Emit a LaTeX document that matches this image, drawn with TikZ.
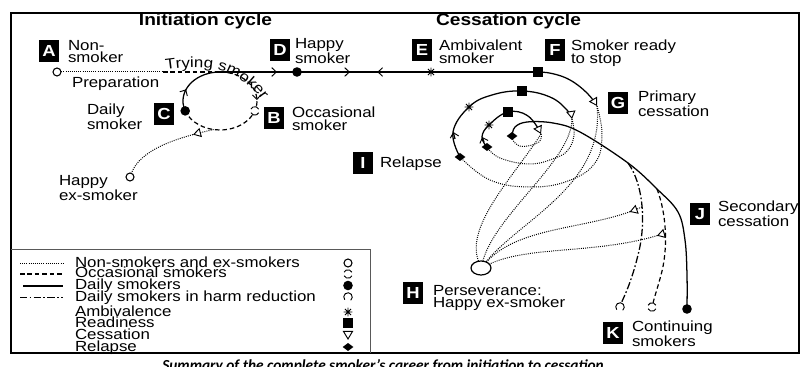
\documentclass[tikz,border=0pt]{standalone}
\usepackage{fontspec}
\setmainfont{Liberation Sans}[FakeStretch=1.15]
\newfontfamily\capfont{Carlito}
\usetikzlibrary{arrows.meta,decorations.markings,decorations.text,shapes.geometric}
\tikzset{
  every node/.style={inner sep=0pt, outer sep=0pt},
  lbl/.style={fill=black, text=white, font=\bfseries\fontsize{12}{12}\selectfont, minimum width=15.4pt, minimum height=16.5pt},
  txt/.style={anchor=west, align=left, font=\fontsize{11}{9.6}\selectfont},
  ltxt/.style={anchor=base west, font=\fontsize{11}{11}\selectfont},
  head/.style={font=\bfseries\fontsize{12.5}{12.5}\selectfont},
  dotl/.style={line width=0.75pt, dash pattern=on 0.7pt off 0.9pt},
  dashl/.style={line width=0.9pt, dash pattern=on 3.4pt off 2.2pt},
  soll/.style={line width=0.95pt},
  ddl/.style={line width=0.95pt, dash pattern=on 5.5pt off 1.8pt on 1.2pt off 1.8pt},
  opc/.style={circle, draw, line width=0.8pt, minimum size=6pt, fill=white},
  fc/.style={circle, fill, minimum size=7.2pt},
  sq/.style={fill, minimum size=7.2pt},
  dia/.style={diamond, fill, minimum width=8pt, minimum height=6pt},
  cess/.tip={Triangle[fill=white, length=6pt, width=7pt, line width=0.7pt]},
  vv/.tip={Straight Barb[length=3.4pt, width=6.5pt, line width=0.7pt]},
  markat/.style 2 args={postaction={decorate, decoration={markings, mark=at position #1 with {#2}}}},
  ast/.pic={\draw[line width=0.7pt] (-3.2pt,0pt)--(3.2pt,0pt) (0pt,-3.2pt)--(0pt,3.2pt) (-2.3pt,-2.3pt)--(2.3pt,2.3pt) (-2.3pt,2.3pt)--(2.3pt,-2.3pt);},
  occ/.pic={\fill[white] (0pt,0pt) circle[radius=3.2pt]; \draw[line width=0.7pt] (25:3.2pt) arc[start angle=25, end angle=155, radius=3.2pt] (205:3.2pt) arc[start angle=205, end angle=335, radius=3.2pt];},
  harm/.pic={\fill[white] (0pt,0pt) circle[radius=3.2pt]; \draw[line width=0.7pt] (-50:3.2pt) arc[start angle=-50, end angle=220, radius=3.2pt];},
  tridn/.pic={\draw[line width=0.7pt, fill=white] (-3.4pt,2.7pt) -- (3.4pt,2.7pt) -- (0pt,-3pt) -- cycle;},
}
\begin{document}
\begin{tikzpicture}[x=0.75pt,y=-0.75pt]
\useasboundingbox (0,0) rectangle (810,367);
% frames
\draw[line width=1.8pt] (11,13) rectangle (799,353);
\draw[line width=0.7pt, black!65] (11,249) -- (370,249) -- (370,353);

% coordinates
\coordinate (cA) at (57,72);
\coordinate (pT) at (163,72);
\coordinate (lTop) at (220,72);
\coordinate (cD) at (297,72);
\coordinate (cE) at (431,72);
\coordinate (cF) at (538,72);
\coordinate (cC) at (185.2,110.9);
\coordinate (cB) at (254.8,110.9);
\coordinate (cLb) at (213.6,129.6);
\coordinate (cT1) at (597,106);
\coordinate (cD2) at (460,157);
\coordinate (cA2) at (469,107);
\coordinate (cQ2) at (522,91);
\coordinate (cT2) at (572,119);
\coordinate (cD3) at (487,147);
\coordinate (cA3) at (489,125);
\coordinate (cQ3) at (508,112);
\coordinate (cT3) at (541,134);
\coordinate (cD4) at (512,136);
\coordinate (bJ1) at (628,163);
\coordinate (bJ2) at (657,189);
\coordinate (cK3) at (687,309);
\coordinate (cK1e) at (621,303.5);
\coordinate (cK2e) at (653,303.5);
\coordinate (cL4) at (642,207);
\coordinate (cL5) at (665.5,233);

\node[ellipse, draw, line width=0.9pt, fill=white, minimum width=15pt, minimum height=10.5pt] (H) at (481,268) {};
\node[opc] (sX) at (130,177) {};

% initiation cycle
\draw[dotl] (cA) -- (pT);
\draw[dashl] (pT) -- (lTop);
\draw[soll, markat={0.74}{\arrow{vv}}] (lTop) -- (cD);
\draw[soll, markat={0.36}{\arrow{vv}}] (cC) arc[start angle=160, end angle=270, x radius=37, y radius=29];
\draw[dashl, markat={0.35}{\arrow{vv}}] (lTop) arc[start angle=270, end angle=520, x radius=37, y radius=29];
\draw[dotl, markat={0.22}{\arrow{cess}}] (cLb) .. controls (175,138) and (140,150) .. (sX);
\path[decorate, decoration={text along path, text align=left, text={|\fontsize{11}{11}\selectfont|Trying smoker}}] (166,70) .. controls (202,65) and (242,64) .. (268,110);

% main line
\draw[soll, postaction={decorate, decoration={markings, mark=at position 0.395 with {\arrow{vv}}, mark=at position 0.6 with {\arrowreversed{vv}}}}] (cD) -- (cE);
\draw[soll] (cE) -- (cF);
\draw[soll, -cess] plot[smooth, tension=0.7] coordinates {(cF) (552,73.5) (570,80) (587,93) (cT1)};

% spiral
\draw[soll, -cess] plot[smooth, tension=0.7] coordinates {(cD2) (453,132) (cA2) (492,95) (cQ2) (550,97) (567,110) (cT2)};
\draw[soll, -vv] (455,139) -- (453.2,132);
\draw[soll, -cess] plot[smooth, tension=0.7] coordinates {(cD3) (482,137) (cA3) (cQ3) (528,116) (cT3)};
\draw[soll, -vv] (484,142) -- (482.2,137);
\draw[soll] plot[smooth, tension=0.6] coordinates {(cD4) (515,127) (527,122) (553,123) (580,132) (bJ1) (bJ2) (678,212) (685,240) (687,275) (cK3)};

% relapse loops
\draw[dotl] plot[smooth, tension=0.7] coordinates {(cT1) (602,135) (595,163) (568,181) (530,187) (490,180) (cD2)};
\draw[dotl] plot[smooth, tension=0.7] coordinates {(cT2) (574,135) (568,150) (555,158) (530,164) (500,158) (cD3)};
\draw[dotl] plot[smooth, tension=0.7] coordinates {(cT3) (539,142) (523,146.5) (514,142) (cD4)};

% fan to H
\draw[dotl] (cT3) .. controls (515,175) and (465,225) .. (H);
\draw[dotl] (cT2) .. controls (572,160) and (495,215) .. (H);
\draw[dotl] (cT1) .. controls (605,185) and (520,220) .. (H);
\draw[dotl, markat={0.08}{\arrow{cess}}] (cL4) .. controls (590,230) and (520,225) .. (H);
\draw[dotl, markat={0.05}{\arrow{cess}}] (cL5) .. controls (600,255) and (530,245) .. (H);

% branches to K
\draw[ddl] (bJ1) .. controls (644,185) and (646,225) .. (638,255) .. controls (632,280) and (625,295) .. (cK1e);
\draw[dashl] (bJ2) .. controls (667,215) and (668,250) .. (661,275) .. controls (657,290) and (654,298) .. (cK2e);

% symbols
\node[opc] (sA) at (cA) {};
\node[fc] (sD) at (cD) {};
\pic at (cE) {ast};
\node[sq] (sF) at (cF) {};
\node[fc] (sC) at (cC) {};
\pic at (cB) {occ};
\node[dia] (d2) at (cD2) {};
\pic at (cA2) {ast};
\node[sq] (q2) at (cQ2) {};
\node[dia] (d3) at (cD3) {};
\pic at (cA3) {ast};
\node[sq] (q3) at (cQ3) {};
\node[dia] (d4) at (cD4) {};
\pic at (620,307) {harm};
\pic at (652,307) {occ};
\node[fc] (sK3) at (cK3) {};

% labels
\node[head] (h1) at (205.5,21.5) {Initiation cycle};
\node[head] (h2) at (508.5,21.5) {Cessation cycle};
\node[lbl] (LA) at (49,51) {A};
\node[txt] (TA) at (68,51.5) {Non-\\smoker};
\node[lbl] (LD) at (280,50) {D};
\node[txt] (TD) at (295,51.5) {Happy\\smoker};
\node[lbl] (LE) at (422,50) {E};
\node[txt] (TE) at (439,51.5) {Ambivalent\\smoker};
\node[lbl] (LF) at (555,50) {F};
\node[txt] (TF) at (571,53.5) {Smoker ready\\to stop};
\node[lbl] (LG) at (618,103) {G};
\node[txt] (TG) at (638,104) {Primary\\cessation};
\node[lbl] (LC) at (164,114) {C};
\node[txt] (TC) at (87,116.5) {Daily\\smoker};
\node[lbl] (LB) at (274,118) {B};
\node[txt] (TB) at (292,119) {Occasional\\smoker};
\node[txt] (TP) at (72,83.5) {Preparation};
\node[txt] (TX) at (59,188) {Happy\\ex-smoker};
\node[lbl] (LI) at (363,163) {I};
\node[txt] (TI) at (380,164) {Relapse};
\node[lbl] (LJ) at (700,214) {J};
\node[txt] (TJ) at (718,213.5) {Secondary\\cessation};
\node[lbl] (LH) at (413,293) {H};
\node[txt] (TH) at (433,298) {Perseverance:\\Happy ex-smoker};
\node[lbl] (LK) at (613,333) {K};
\node[txt] (TK) at (632,333.5) {Continuing\\smokers};

% legend
\draw[dotl] (20,263) -- (63,263);
\draw[dashl] (20,274) -- (63,274);
\draw[soll] (23,286) -- (63,286);
\draw[ddl] (20,297.5) -- (63,297.5);
\node[ltxt] (l1) at (75,267) {Non-smokers and ex-smokers};
\node[ltxt] (l2) at (75,277.5) {Occasional smokers};
\node[ltxt] (l3) at (75,289.5) {Daily smokers};
\node[ltxt] (l4) at (75,301.5) {Daily smokers in harm reduction};
\node[ltxt] (l5) at (75,316) {Ambivalence};
\node[ltxt] (l6) at (75,327.5) {Readiness};
\node[ltxt] (l7) at (75,339) {Cessation};
\node[ltxt] (l8) at (75,351) {Relapse};
\node[opc] (g1) at (348,263) {};
\pic at (348,274) {occ};
\node[fc] (g3) at (348,285.5) {};
\pic at (348,297) {harm};
\pic at (348,312) {ast};
\node[sq] (g6) at (348,323) {};
\pic at (348,335) {tridn};
\node[dia] (g8) at (348,347) {};

% caption
\node[anchor=base, font=\capfont\bfseries\itshape\fontsize{11.5}{12}\selectfont] (cap) at (383,370) {Summary of the complete smoker’s career from initiation to cessation};
\end{tikzpicture}
\end{document}
